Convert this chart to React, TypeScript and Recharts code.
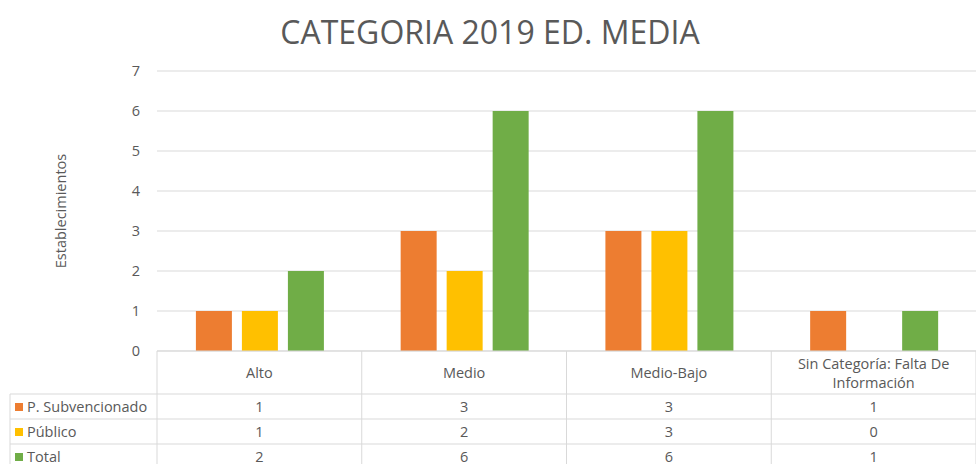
import React from 'react';
import { BarChart, Bar, XAxis, YAxis, CartesianGrid } from 'recharts';

const categories = ['Alto', 'Medio', 'Medio-Bajo', 'Sin Categoría: Falta De Información'];
const subvencionado = [1, 3, 3, 1];
const publico = [1, 2, 3, 0];
const total = [2, 6, 6, 1];
const yTicks = [0, 1, 2, 3, 4, 5, 6, 7];

const series = [
  { key: 'subvencionado', name: 'P. Subvencionado', color: '#ED7D31', values: subvencionado },
  { key: 'publico', name: 'Público', color: '#FFC000', values: publico },
  { key: 'total', name: 'Total', color: '#70AD47', values: total },
];

const data = categories.map((name, i) => ({
  name,
  subvencionado: subvencionado[i],
  publico: publico[i],
  total: total[i],
}));

const FONT = '"Open Sans", "Noto Sans", sans-serif';
const TEXT = '#595959';
const LINE = '#D9D9D9';
const ROW_H = 25;
const HEAD_H = 43;
const FS = 14.5;

// category cell + values column of the data table
const TableTick = (props: any) => {
  const { x, y, payload, index } = props;
  const half = payload.offset || 102.4;
  const label: string = payload.value;
  const words = label.split(' ');
  const lines = label.length > 20 ? [words.slice(0, 4).join(' '), words.slice(4).join(' ')] : [label];
  return (
    <g>
      <line x1={x + half} y1={y} x2={x + half} y2={464} stroke={LINE} />
      {index === 0 && <line x1={x - half} y1={y} x2={x - half} y2={464} stroke={LINE} />}
      {lines.map((l, i) => (
        <text key={i} x={x} y={y + HEAD_H / 2 + (i - (lines.length - 1) / 2) * 19} textAnchor="middle"
          dominantBaseline="central" fill={TEXT} fontSize={FS} fontFamily={FONT}>{l}</text>
      ))}
      {series.map((s, r) => (
        <text key={s.key} x={x} y={y + HEAD_H + r * ROW_H + ROW_H / 2} textAnchor="middle"
          dominantBaseline="central" fill={TEXT} fontSize={FS} fontFamily={FONT}>{s.values[index]}</text>
      ))}
    </g>
  );
};

export default function App() {
  return (
    <div style={{ position: 'absolute', left: 0, top: 0, width: 976, height: 464, background: '#fff', overflow: 'hidden' }}>
      <BarChart width={976} height={464} data={data} margin={{ top: 71, right: 0, bottom: 0, left: 117 }}
        barCategoryGap="19%" barGap={10}>
        <CartesianGrid vertical={false} stroke={LINE} />
        <XAxis dataKey="name" height={113} axisLine={{ stroke: LINE }} tickLine={false} tickSize={0} tickMargin={0}
          tick={<TableTick />} interval={0} />
        <YAxis width={40} domain={[0, 7]} ticks={yTicks} axisLine={false} tickLine={false} tickMargin={11}
          tick={{ fill: TEXT, fontSize: FS, fontFamily: FONT }} />
        {series.map((s) => (
          <Bar key={s.key} dataKey={s.key} name={s.name} fill={s.color} isAnimationActive={false} />
        ))}
      </BarChart>
      <svg width={976} height={464} style={{ position: 'absolute', left: 0, top: 0, pointerEvents: 'none' }}>
        <text x={490} y={31} textAnchor="middle" dominantBaseline="central" fill={TEXT} fontSize={32} fontFamily={FONT}>
          CATEGORIA 2019 ED. MEDIA
        </text>
        <text x={60} y={211} textAnchor="middle" dominantBaseline="central" fill={TEXT} fontSize={FS}
          fontFamily={FONT} transform="rotate(-90 60 211)">Establecimientos</text>
        {[0, 1, 2, 3].map((r) => (
          <line key={r} x1={10} y1={351 + HEAD_H + r * ROW_H} x2={976} y2={351 + HEAD_H + r * ROW_H} stroke={LINE} />
        ))}
        <line x1={10} y1={394} x2={10} y2={464} stroke={LINE} />
        {series.map((s, r) => (
          <g key={s.key}>
            <rect x={15} y={351 + HEAD_H + r * ROW_H + 9} width={8} height={8} fill={s.color} />
            <text x={27} y={351 + HEAD_H + r * ROW_H + ROW_H / 2} dominantBaseline="central" fill={TEXT}
              fontSize={FS} fontFamily={FONT}>{s.name}</text>
          </g>
        ))}
      </svg>
    </div>
  );
}
